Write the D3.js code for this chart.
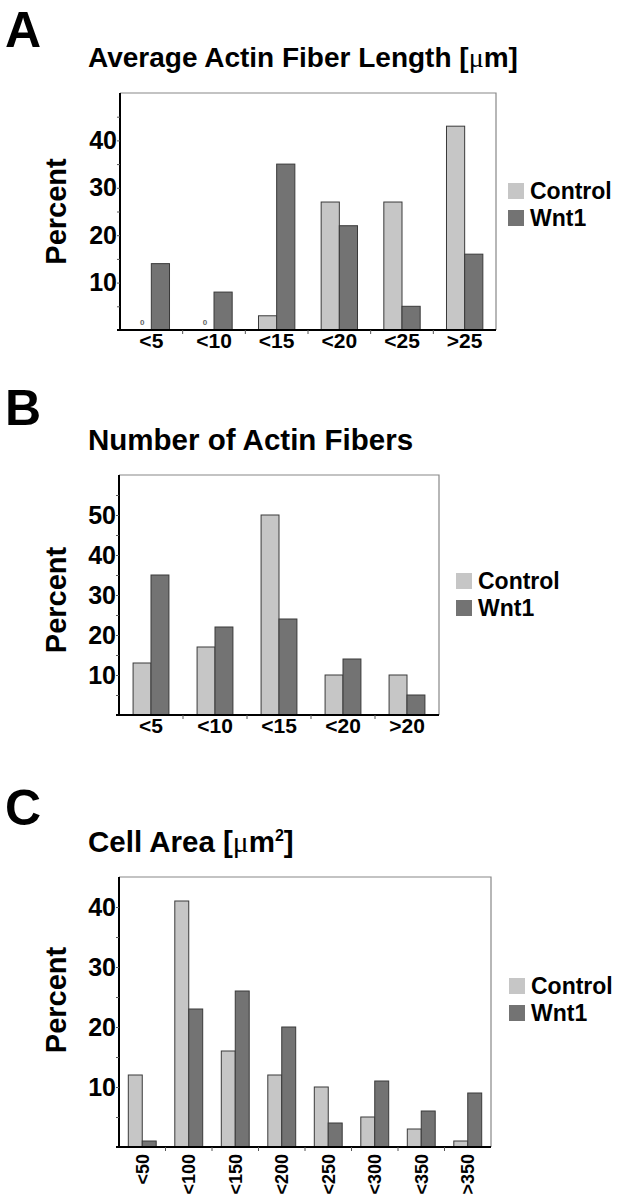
<!DOCTYPE html>
<html>
<head>
<meta charset="utf-8">
<script src="https://cdn.jsdelivr.net/npm/d3@7"></script>
<style>
  body { margin: 0; background: #fff; }
  text { font-family: "Liberation Sans", Arial, Helvetica, sans-serif; font-weight: bold; }
</style>
</head>
<body>
<div id="chart-area"></div>
<script>
// Data
var series = ["Control", "Wnt1"];

var catsA = ["<5", "<10", "<15", "<20", "<25", ">25"];
var controlA = [0, 0, 3, 27, 27, 43];
var wntA = [14, 8, 35, 22, 5, 16];

var catsB = ["<5", "<10", "<15", "<20", ">20"];
var controlB = [13, 17, 50, 10, 10];
var wntB = [35, 22, 24, 14, 5];

var catsC = ["<50", "<100", "<150", "<200", "<250", "<300", "<350", ">350"];
var controlC = [12, 41, 16, 12, 10, 5, 3, 1];
var wntC = [1, 23, 26, 20, 4, 11, 6, 9];

var colors = { "Control": "#c6c6c6", "Wnt1": "#737373" };

var svg = d3.select("#chart-area").append("svg")
    .attr("width", 628)
    .attr("height", 1200);

svg.append("rect").attr("width", 628).attr("height", 1200).attr("fill", "#fff");

// one panel = letter, title, framed bar chart, legend
function drawPanel(p) {
    var width = p.right - p.left,
        height = p.bottom - p.top;

    svg.append("text")
        .attr("x", 5).attr("y", p.letterY)
        .attr("font-size", "50px")
        .text(p.letter);

    var title = svg.append("text")
        .attr("x", 88).attr("y", p.titleY)
        .attr("font-size", p.titleSize)
        .style("word-spacing", p.wordSpacing || 0);
    title.append("tspan").text(p.title);
    if (p.unit) {
        title.append("tspan").text("[");
        title.append("tspan")
            .style("font-family", "'Liberation Serif', 'DejaVu Serif', serif")
            .style("font-weight", "normal")
            .text("\u03bc");
        title.append("tspan").text("m");
        if (p.unit == "m2") {
            title.append("tspan").attr("font-size", "16px").attr("dy", -11).text("2");
            title.append("tspan").attr("dy", 11).text("]");
        } else {
            title.append("tspan").text("]");
        }
    }

    var g = svg.append("g")
        .attr("transform", "translate(" + p.left + "," + p.top + ")");

    var x0 = d3.scaleBand().domain(p.cats).range([0, width])
        .paddingInner(p.pad).paddingOuter(p.pad / 2);
    var x1 = d3.scaleBand().domain(series).range([0, x0.bandwidth()]);
    var y = d3.scaleLinear().domain([0, p.ymax]).range([height, 0]);

    var rows = p.cats.map(function(c, i) {
        return { cat: c, Control: p.control[i], Wnt1: p.wnt[i] };
    });

    // frame (top + right, gray)
    g.append("path")
        .attr("d", "M0,0H" + width + "V" + height)
        .attr("fill", "none")
        .attr("stroke", "#888")
        .attr("stroke-width", 1.2);

    // bars
    var groups = g.selectAll(".grp").data(rows).enter().append("g")
        .attr("transform", function(d) { return "translate(" + x0(d.cat) + ",0)"; });

    groups.selectAll("rect")
        .data(function(d) { return series.map(function(s) { return { s: s, v: d[s] }; }); })
        .enter().filter(function(d) { return d.v > 0; })
        .append("rect")
        .attr("x", function(d) { return x1(d.s); })
        .attr("y", function(d) { return y(d.v); })
        .attr("width", x1.bandwidth())
        .attr("height", function(d) { return height - y(d.v); })
        .attr("fill", function(d) { return colors[d.s]; })
        .attr("stroke", "#3a3a3a")
        .attr("stroke-width", 1);

    // little "0" marks for empty bars
    groups.selectAll(".zero")
        .data(function(d) { return series.map(function(s) { return { s: s, v: d[s] }; }); })
        .enter().filter(function(d) { return d.v == 0; })
        .append("text")
        .attr("class", "zero")
        .attr("x", function(d) { return x1(d.s) + x1.bandwidth() / 2; })
        .attr("y", height - 5)
        .attr("text-anchor", "middle")
        .attr("font-size", "8px")
        .attr("fill", "#666")
        .text("0");

    // y axis
    var yAxisCall = d3.axisLeft(y)
        .tickValues(d3.range(5, p.ymax, 5))
        .tickSize(3)
        .tickSizeOuter(0)
        .tickFormat(function(d) { return d % 10 == 0 ? d : ""; });
    var yAxis = g.append("g").call(yAxisCall);
    yAxis.select(".domain").attr("stroke", "#000").attr("stroke-width", 2)
        .attr("d", "M0,0V" + height);
    yAxis.selectAll("line").attr("stroke", "#555");
    yAxis.selectAll("text")
        .attr("x", -3)
        .attr("font-size", "25px")
        .attr("font-family", "'Liberation Sans', Arial, sans-serif")
        .attr("font-weight", "bold")
        .attr("fill", "#000");

    // x axis
    var xAxisCall = d3.axisBottom(x0).tickSize(0).tickSizeOuter(0);
    var xAxis = g.append("g")
        .attr("transform", "translate(0," + height + ")")
        .call(xAxisCall);
    xAxis.select(".domain").attr("stroke", "#000").attr("stroke-width", 2)
        .attr("d", "M-3,0H" + width);
    xAxis.selectAll("text")
        .attr("font-size", p.rotate ? "18px" : "21px")
        .attr("font-family", "'Liberation Sans', Arial, sans-serif")
        .attr("font-weight", "bold")
        .attr("fill", "#000");
    if (p.rotate) {
        xAxis.selectAll("text")
            .attr("transform", "rotate(-90)")
            .attr("x", -7)
            .attr("y", 0)
            .attr("dy", "0.35em")
            .style("text-anchor", "end");
    } else {
        xAxis.selectAll("text").attr("y", 3).attr("dy", "0.71em");
    }
    // small ticks between categories
    xAxis.selectAll(".sep")
        .data(d3.range(1, p.cats.length))
        .enter().append("line")
        .attr("x1", function(i) { return x0.step() * i; })
        .attr("x2", function(i) { return x0.step() * i; })
        .attr("y1", 0).attr("y2", 4)
        .attr("stroke", "#555");

    // y label
    svg.append("text")
        .attr("transform", "translate(" + 66 + "," + (p.top + height / 2 + p.labelShift) + ") rotate(-90)")
        .attr("text-anchor", "middle")
        .attr("font-size", "29px")
        .text("Percent");

    // legend
    var legend = svg.append("g")
        .attr("transform", "translate(" + p.legendX + "," + p.legendY + ")");
    series.forEach(function(s, i) {
        legend.append("rect")
            .attr("x", 0).attr("y", i * 27)
            .attr("width", 16).attr("height", 16)
            .attr("fill", colors[s]);
        legend.append("text")
            .attr("x", 22).attr("y", i * 27 + 16)
            .attr("font-size", "23px")
            .text(s);
    });
}

drawPanel({
    letter: "A", letterY: 47, title: "Average Actin Fiber Length ", unit: "m", titleY: 67,
    titleSize: "28px",
    left: 120, top: 93, right: 496, bottom: 330, ymax: 50,
    cats: catsA, control: controlA, wnt: wntA, pad: 0.42, rotate: false,
    legendX: 508, legendY: 183, labelShift: 0
});

drawPanel({
    letter: "B", letterY: 425, title: "Number of Actin Fibers", unit: null, titleY: 450,
    titleSize: "29.5px",
    left: 119, top: 475, right: 439, bottom: 715, ymax: 60,
    cats: catsB, control: controlB, wnt: wntB, pad: 0.44, rotate: false,
    legendX: 456, legendY: 573, labelShift: 5
});

drawPanel({
    letter: "C", letterY: 825, title: "Cell Area ", unit: "m2", titleY: 852,
    titleSize: "29.5px",
    left: 119, top: 877, right: 491, bottom: 1147, ymax: 45,
    cats: catsC, control: controlC, wnt: wntC, pad: 0.4, rotate: true,
    legendX: 509, legendY: 978, labelShift: -12
});
</script>
</body>
</html>
